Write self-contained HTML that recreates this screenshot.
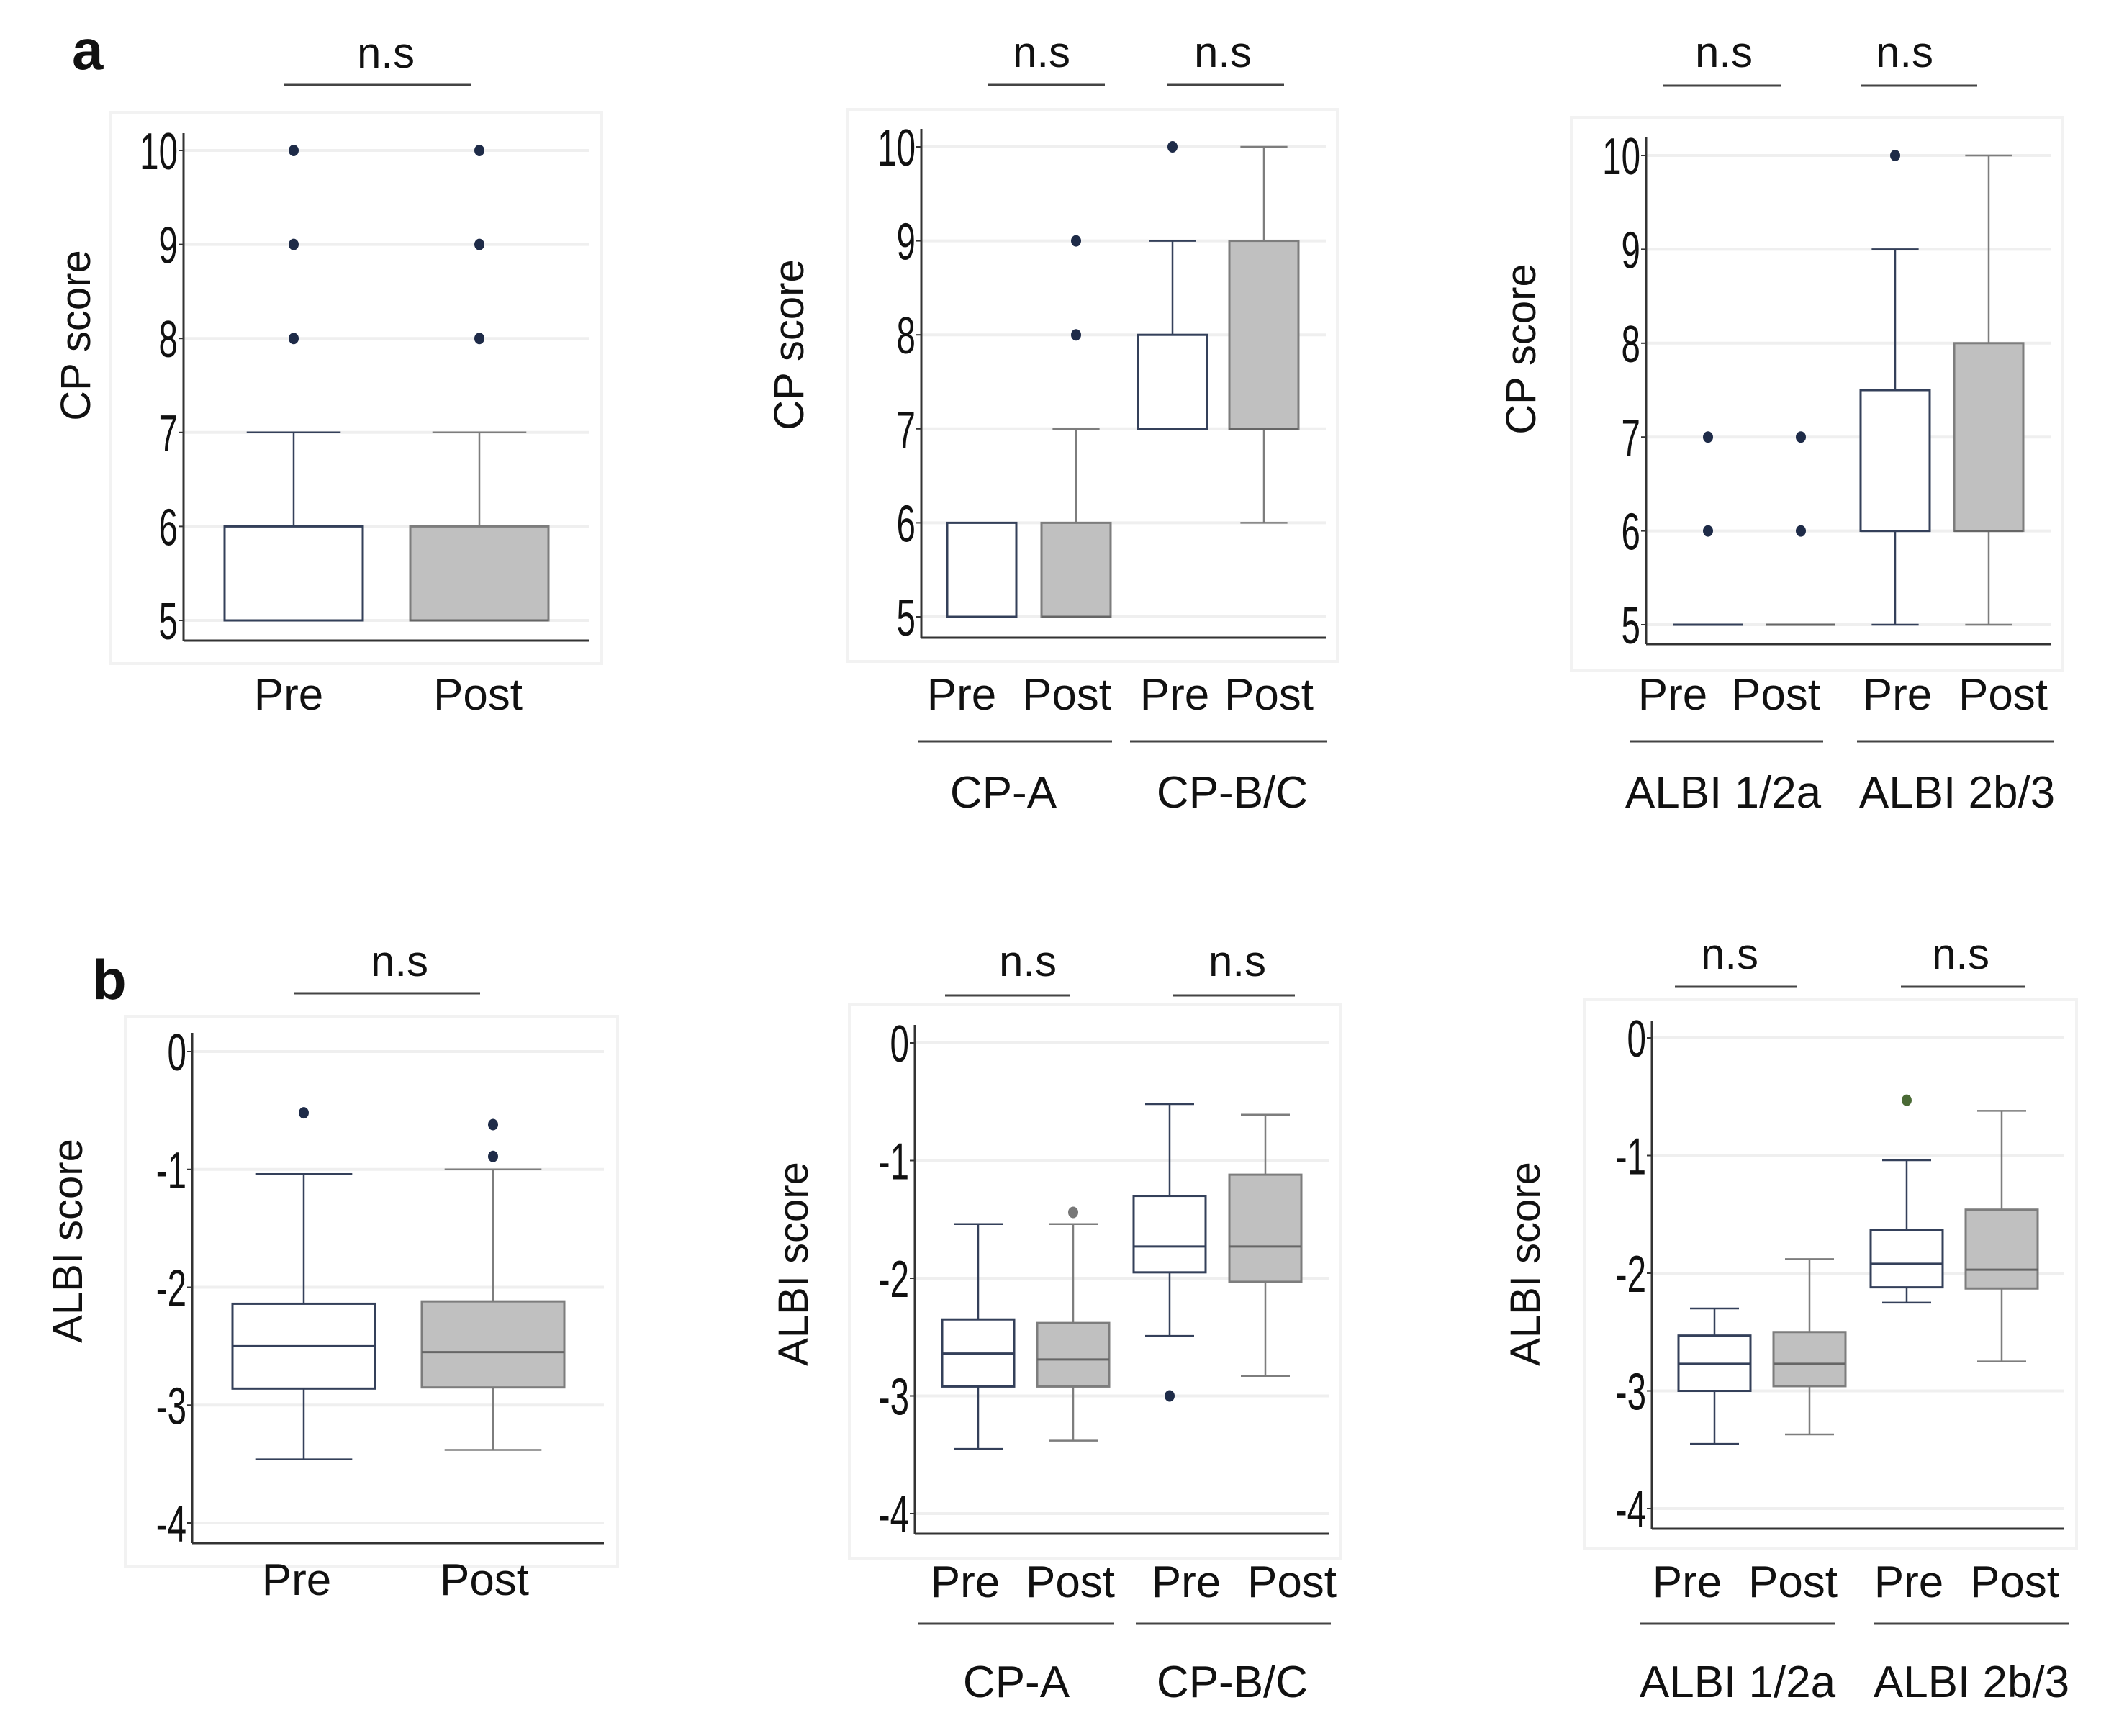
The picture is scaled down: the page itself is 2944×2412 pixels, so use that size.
<!DOCTYPE html>
<html><head><meta charset="utf-8">
<style>
html,body{margin:0;padding:0;background:#fff;}
svg{display:block;}
text{font-family:"Liberation Sans",sans-serif;fill:#111;}
</style></head>
<body>
<svg id="fig" width="2944" height="2412" viewBox="0 0 2944 2412" xmlns="http://www.w3.org/2000/svg">
<text x="100" y="96" font-size="78" font-weight="bold">a</text>
<text x="128" y="1388" font-size="78" font-weight="bold">b</text>
</svg>
<script>
// ---- data: panel a1 (CP score overall)
const a1Categories=['Pre','Post'];
const a1Low=[5,5];
const a1Q1=[5,5];
const a1Med=[5,5];
const a1Q3=[6,6];
const a1High=[7,7];
const a1Out=[[8,9,10],[8,9,10]];
// ---- panel a2 (CP score by CP class)
const a2Categories=['Pre','Post','Pre','Post'];
const a2Low=[5,5,7,6];
const a2Q1=[5,5,7,7];
const a2Med=[5,5,7,7];
const a2Q3=[6,6,8,9];
const a2High=[6,7,9,10];
const a2Out=[[],[8,9],[10],[]];
// ---- panel a3 (CP score by ALBI grade)
const a3Categories=['Pre','Post','Pre','Post'];
const a3Low=[5,5,5,5];
const a3Q1=[5,5,6,6];
const a3Med=[5,5,6,6];
const a3Q3=[5,5,7.5,8];
const a3High=[5,5,9,10];
const a3Out=[[6,7],[6,7],[10],[]];
// ---- panel b1 (ALBI score overall)
const b1Categories=['Pre','Post'];
const b1Low=[-3.46,-3.38];
const b1Q1=[-2.86,-2.85];
const b1Med=[-2.5,-2.55];
const b1Q3=[-2.14,-2.12];
const b1High=[-1.04,-1.0];
const b1Out=[[-0.52],[-0.62,-0.89]];
// ---- panel b2 (ALBI score by CP class)
const b2Categories=['Pre','Post','Pre','Post'];
const b2Low=[-3.45,-3.38,-2.49,-2.83];
const b2Q1=[-2.92,-2.92,-1.95,-2.03];
const b2Med=[-2.64,-2.69,-1.73,-1.73];
const b2Q3=[-2.35,-2.38,-1.3,-1.12];
const b2High=[-1.54,-1.54,-0.52,-0.61];
const b2Out=[[],[-1.44],[-3.0],[]];
// ---- panel b3 (ALBI score by ALBI grade)
const b3Categories=['Pre','Post','Pre','Post'];
const b3Low=[-3.45,-3.37,-2.25,-2.75];
const b3Q1=[-3.0,-2.96,-2.12,-2.13];
const b3Med=[-2.77,-2.77,-1.92,-1.97];
const b3Q3=[-2.53,-2.5,-1.63,-1.46];
const b3High=[-2.3,-1.88,-1.04,-0.62];
const b3Out=[[],[],[-0.53],[]];
// tick labels
const cpTicks=[5,6,7,8,9,10];
const albiTicks=[0,-1,-2,-3,-4];
const groupsCP=['CP-A','CP-B/C'];
const groupsALBI=['ALBI 1/2a','ALBI 2b/3'];

const NS='http://www.w3.org/2000/svg';
const svg=document.getElementById('fig');
function mk(tag,attrs,parent){const e=document.createElementNS(NS,tag);for(const k in attrs)e.setAttribute(k,attrs[k]);(parent||svg).appendChild(e);return e;}

const panels=[
 {id:'a1',bg:[153,156,836,922],ax:255,axTop:185,axBot:890,xEnd:819,vHi:10,pHi:209,vLo:5,pLo:862,centers:[408,666],hw:96,
  cats:a1Categories,low:a1Low,q1:a1Q1,med:a1Med,q3:a1Q3,high:a1High,out:a1Out,ticks:cpTicks,title:'CP score',tx:105,ty:466,
  ns:[[536,394,654]],nsY:94,nsBar:118,labY:986,labX:[401,664],groups:null},
 {id:'a2',bg:[1177,152,1858,919],ax:1280,axTop:179,axBot:886,xEnd:1842,vHi:10,pHi:204,vLo:5,pLo:857,centers:[1364,1495,1629,1756],hw:48,
  cats:a2Categories,low:a2Low,q1:a2Q1,med:a2Med,q3:a2Q3,high:a2High,out:a2Out,ticks:cpTicks,title:'CP score',tx:1096,ty:479,
  ns:[[1447,1373,1535],[1699,1622,1784]],nsY:93,nsBar:118,labY:986,labX:[1336,1482,1632,1763],
  groups:groupsCP,gLines:[[1275,1545],[1570,1843]],gLineY:1030,gX:[1394,1712],gY:1122},
 {id:'a3',bg:[2183,163,2866,932],ax:2287,axTop:190,axBot:895,xEnd:2850,vHi:10,pHi:216,vLo:5,pLo:868,centers:[2373,2502,2633,2763],hw:48,
  cats:a3Categories,low:a3Low,q1:a3Q1,med:a3Med,q3:a3Q3,high:a3High,out:a3Out,ticks:cpTicks,title:'CP score',tx:2113,ty:485,
  ns:[[2395,2311,2474],[2646,2585,2747]],nsY:93,nsBar:119,labY:986,labX:[2324,2467,2636,2783],
  groups:groupsALBI,gLines:[[2264,2533],[2580,2853]],gLineY:1030,gX:[2394,2719],gY:1122},
 {id:'b1',bg:[174,1412,858,2177],ax:267,axTop:1435,axBot:2144,xEnd:839,vHi:0,pHi:1461,vLo:-4,pLo:2116,centers:[422,685],hw:99,
  cats:b1Categories,low:b1Low,q1:b1Q1,med:b1Med,q3:b1Q3,high:b1High,out:b1Out,ticks:albiTicks,title:'ALBI  score',tx:94,ty:1724,
  ns:[[555,408,667]],nsY:1356,nsBar:1380,labY:2216,labX:[412,673],groups:null},
 {id:'b2',bg:[1180,1396,1862,2165],ax:1271,axTop:1424,axBot:2131,xEnd:1847,vHi:0,pHi:1449,vLo:-4,pLo:2103,centers:[1359,1491,1625,1758],hw:50,
  cats:b2Categories,low:b2Low,q1:b2Q1,med:b2Med,q3:b2Q3,high:b2High,out:b2Out,ticks:albiTicks,title:'ALBI  score',tx:1102,ty:1756,
  ns:[[1428,1313,1487],[1719,1629,1799]],nsY:1356,nsBar:1383,labY:2219,labX:[1341,1487,1648,1795],
  groups:groupsCP,gLines:[[1276,1548],[1578,1849]],gLineY:2256,gX:[1412,1712],gY:2358},
 {id:'b3',bg:[2202,1389,2885,2152],ax:2295,axTop:1418,axBot:2124,xEnd:2868,vHi:0,pHi:1442,vLo:-4,pLo:2096,centers:[2382,2514,2649,2781],hw:50,
  cats:b3Categories,low:b3Low,q1:b3Q1,med:b3Med,q3:b3Q3,high:b3High,out:b3Out,ticks:albiTicks,title:'ALBI  score',tx:2119,ty:1756,
  ns:[[2403,2327,2497],[2724,2641,2813]],nsY:1346,nsBar:1371,labY:2219,labX:[2344,2491,2652,2799],
  groups:groupsALBI,gLines:[[2279,2549],[2604,2874]],gLineY:2256,gX:[2414,2739],gY:2358}
];

panels.forEach(P=>{
  const g=mk('g',{});
  
  
  const y=v=>P.pHi+(P.vHi-v)/(P.vHi-P.vLo)*(P.pLo-P.pHi);
  const bg=mk('rect',{x:P.bg[0],y:P.bg[1],width:P.bg[2]-P.bg[0],height:P.bg[3]-P.bg[1],fill:'#fff',stroke:'#f2f2f2','stroke-width':4},g);
  
  
  P.ticks.forEach(t=>{
    const gl=mk('line',{x1:P.ax,x2:P.xEnd,y1:y(t),y2:y(t),stroke:'#efefef','stroke-width':4},g);
    
    
    mk('line',{x1:P.ax-7,x2:P.ax,y1:y(t),y2:y(t),stroke:'#333','stroke-width':2},g);
    const tl=mk('text',{x:0,y:0,'font-size':72,'text-anchor':'end',transform:`translate(${P.ax-8},${y(t)+26}) scale(0.66,1)`},g);
    tl.textContent=String(t);
    
    
  });
  const ya=mk('line',{x1:P.ax,x2:P.ax,y1:P.axTop,y2:P.axBot,stroke:'#333','stroke-width':3},g);
  
  
  const xa=mk('line',{x1:P.ax,x2:P.xEnd,y1:P.axBot,y2:P.axBot,stroke:'#333','stroke-width':3},g);
  
  
  const tt=mk('text',{x:0,y:0,'font-size':58,'text-anchor':'middle',transform:`translate(${P.tx+20},${P.ty}) rotate(-90)`},g);
  tt.textContent=P.title;
  
  
  P.cats.forEach((c,i)=>{
    const cx=P.centers[i], hw=P.hw, post=(i%2===1);
    const sc=post?'#7d7d7d':'#34405a', fill=post?'#c0c0c0':'#fff';
    const bx=mk('g',{},g);
    
    
    const cap=hw*0.68;
    if(P.high[i]>P.q3[i]){
      mk('line',{x1:cx,x2:cx,y1:y(P.high[i]),y2:y(P.q3[i]),stroke:sc,'stroke-width':2.5},bx);
      mk('line',{x1:cx-cap,x2:cx+cap,y1:y(P.high[i]),y2:y(P.high[i]),stroke:sc,'stroke-width':2.5},bx);
    }
    if(P.low[i]<P.q1[i]){
      mk('line',{x1:cx,x2:cx,y1:y(P.low[i]),y2:y(P.q1[i]),stroke:sc,'stroke-width':2.5},bx);
      mk('line',{x1:cx-cap,x2:cx+cap,y1:y(P.low[i]),y2:y(P.low[i]),stroke:sc,'stroke-width':2.5},bx);
    }
    mk('rect',{x:cx-hw,y:y(P.q3[i]),width:2*hw,height:Math.max(0,y(P.q1[i])-y(P.q3[i])),fill:fill,stroke:sc,'stroke-width':3},bx);
    mk('line',{x1:cx-hw,x2:cx+hw,y1:y(P.med[i]),y2:y(P.med[i]),stroke:post?'#666':sc,'stroke-width':3},bx);
    P.out[i].forEach(o=>{
      const d=mk('ellipse',{cx:cx,cy:y(o),rx:7,ry:8,fill:(P.id==='b3'&&i===2)?'#4a6a35':(post&&P.id==='b2'?'#777':'#1e2b48')},bx);
      
      
    });
    const lb=mk('text',{x:P.labX[i],y:P.labY,'font-size':62,'text-anchor':'middle'},g);
    lb.textContent=c;
    
    
  });
  P.ns.forEach(n=>{
    const t=mk('text',{x:n[0],y:P.nsY,'font-size':60,'text-anchor':'middle'},g);
    t.textContent='n.s';
    
    
    const l=mk('line',{x1:n[1],x2:n[2],y1:P.nsBar,y2:P.nsBar,stroke:'#444','stroke-width':3},g);
    
    
  });
  if(P.groups){
    P.groups.forEach((gn,j)=>{
      const l=mk('line',{x1:P.gLines[j][0],x2:P.gLines[j][1],y1:P.gLineY,y2:P.gLineY,stroke:'#444','stroke-width':3},g);
      
      
      const t=mk('text',{x:P.gX[j],y:P.gY,'font-size':62,'text-anchor':'middle'},g);
      t.textContent=gn;
      
      
    });
  }
});
</script>
</body></html>
